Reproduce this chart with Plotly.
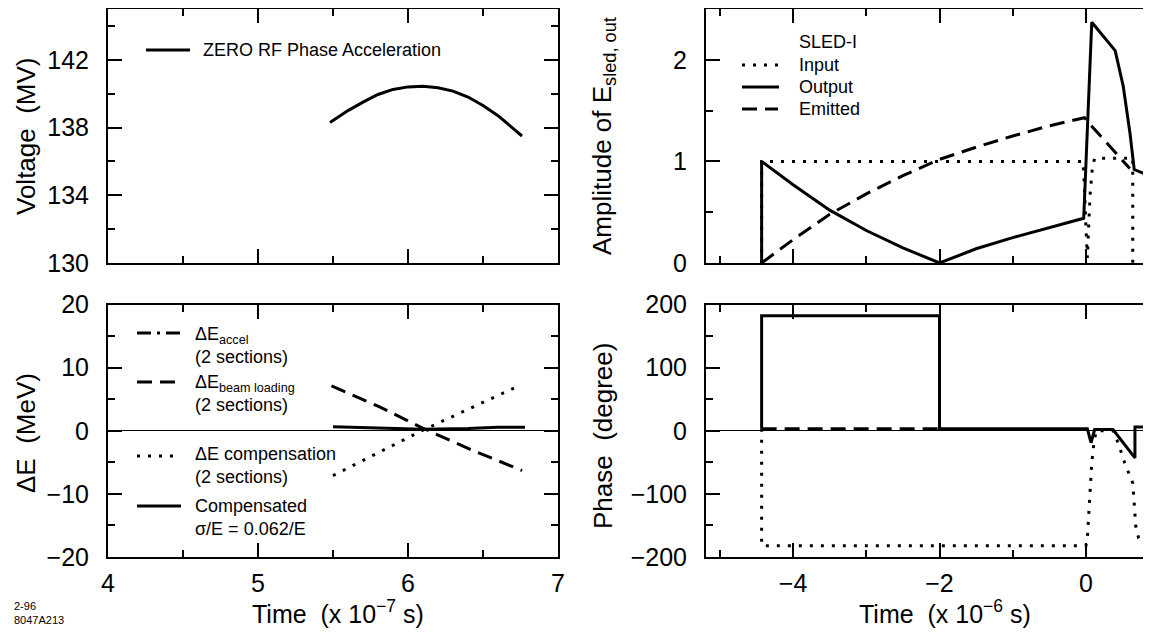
import plotly.graph_objects as go

# ---------------- data ----------------
# top-left: ZERO RF phase acceleration voltage (MV) vs time (x1e-7 s)
zero_rf_t = [5.48, 5.6, 5.7, 5.8, 5.9, 6.0, 6.1, 6.2, 6.3, 6.4, 6.5, 6.6, 6.7, 6.76]
zero_rf_v = [138.3, 139.0, 139.5, 139.95, 140.25, 140.4, 140.44, 140.35, 140.15, 139.8, 139.3, 138.7, 137.95, 137.5]

# bottom-left: energy deviations (MeV)
beam_t = [5.49, 5.8, 6.1, 6.4, 6.76]
beam_v = [7.1, 3.9, 0.4, -2.8, -6.3]
comp_t = [5.5, 5.8, 6.1, 6.4, 6.72]
comp_v = [-7.1, -3.5, 0.1, 3.4, 6.9]
compd_t = [5.5, 5.8, 6.1, 6.4, 6.6, 6.78]
compd_v = [0.65, 0.4, 0.25, 0.35, 0.55, 0.55]

# top-right: SLED-I amplitudes vs time (x1e-6 s)
in_amp_t = [-4.43, -4.43, -0.04, -0.02, 0.0, 0.01, 0.02, 0.04, 0.06, 0.09, 0.12, 0.64, 0.64]
in_amp_v = [0.0, 1.0, 1.0, 0.75, 0.35, 0.05, 0.05, 0.4, 0.7, 0.95, 1.03, 1.03, 0.0]
out_amp_t = [-4.43, -4.43, -4.0, -3.5, -3.0, -2.5, -2.0, -1.5, -1.0, -0.5, -0.03, 0.08, 0.4, 0.51, 0.6, 0.66, 0.93]
out_amp_v = [0.0, 1.0, 0.77, 0.52, 0.32, 0.15, 0.0, 0.14, 0.25, 0.35, 0.44, 2.37, 2.09, 1.74, 1.29, 0.92, 0.84]
em_amp_t = [-4.43, -4.0, -3.5, -3.0, -2.5, -2.0, -1.5, -1.0, -0.5, -0.02, 0.05, 0.6]
em_amp_v = [0.0, 0.23, 0.48, 0.68, 0.86, 1.02, 1.14, 1.25, 1.35, 1.43, 1.37, 0.93]

# bottom-right: SLED-I phases (degree)
in_ph_t = [-4.43, -4.43, 0.0, 0.02, 0.045, 0.08, 0.11, 0.14, 0.37, 0.44, 0.53, 0.59, 0.64, 0.66, 0.68, 0.72, 0.77]
in_ph_v = [3, -182, -182, -170, -120, -51, -19, 0, 0, -19, -51, -67, -83, -115, -150, -170, -178]
out_ph_t = [-4.43, -4.43, -2.0, -2.0, 0.02, 0.07, 0.12, 0.37, 0.67, 0.67, 0.93]
out_ph_v = [3, 182, 182, 3, 3, -19, 2, 2, -43, 6, 6]
em_ph_t = [-4.43, -2.0]
em_ph_v = [3, 3]

# ---------------- layout helpers ----------------
# the page body keeps its default 8 px margin, so the figure is 16 px smaller than the window
OFF = 8
W, H = 1151 - 2 * OFF, 637 - 2 * OFF
FONT = "Liberation Sans, Arial, Helvetica, sans-serif"


def px(x):  # x given in window pixels
    return (x - OFF) / W


def py(y):  # y given in window pixels
    return 1 - (y - OFF) / H


DOT = "3px,8px"
DASH = "15px,8px"
DASHDOT = "14px,6px,3px,6px"

fig = go.Figure()


def line(t, v, xa, ya, dash="solid", width=3):
    fig.add_trace(go.Scatter(x=t, y=v, xaxis=xa, yaxis=ya, mode="lines",
                             line=dict(color="black", width=width, dash=dash),
                             showlegend=False, hoverinfo="skip"))


line(zero_rf_t, zero_rf_v, "x", "y")
line(beam_t, beam_v, "x2", "y2", DASH)
line(comp_t, comp_v, "x2", "y2", DOT)
line(compd_t, compd_v, "x2", "y2")
line(in_amp_t, in_amp_v, "x3", "y3", DOT)
line(em_amp_t, em_amp_v, "x3", "y3", DASH)
line(out_amp_t, out_amp_v, "x3", "y3")
line(in_ph_t, in_ph_v, "x4", "y4", DOT)
line(em_ph_t, em_ph_v, "x4", "y4", DASH)
line(out_ph_t, out_ph_v, "x4", "y4")


def axis(domain, anchor, rng, major, labels, minor, zero=False, show=True, xaxis=True,
         mirror="allticks"):
    d = dict(domain=domain, anchor=anchor, range=rng, showline=True, linecolor="black",
             linewidth=2, mirror=mirror, ticks="inside", ticklen=14, tickwidth=1.5,
             tickcolor="black", showgrid=False, zeroline=zero, zerolinecolor="black",
             zerolinewidth=1, tickmode="array", tickvals=major, automargin=False,
             showticklabels=show,
             tickfont=dict(family=FONT, size=25, color="black"),
             ticklabelstandoff=3 if xaxis else 12,
             minor=dict(ticks="inside", ticklen=7, tickwidth=1.5, tickcolor="black",
                        tickvals=minor, showgrid=False),
             fixedrange=True)
    if show:
        d["ticktext"] = labels
    return d


def right_ticks(overlay, anchor, rng, major):
    # only the inner ends of the right-edge ticks are visible in the cropped original
    return dict(overlaying=overlay, anchor=anchor, side="right", range=rng, showline=False,
                ticks="inside", ticklen=3, tickwidth=1.5, tickcolor="black", showgrid=False,
                zeroline=False, tickmode="array", tickvals=major, showticklabels=False,
                automargin=False, fixedrange=True)


L = [px(108), px(558)]
R = [px(706), 1.0]
TOP = [py(263), py(9)]
BOT = [py(557), py(304.5)]
XR = [-5.19, 0.78]

fig.update_layout(
    width=W, height=H, margin=dict(l=0, r=0, t=0, b=0, autoexpand=False), autosize=False,
    paper_bgcolor="white", plot_bgcolor="white", showlegend=False,
    font=dict(family=FONT, color="black"),
    xaxis=axis(L, "y", [4, 7], [4, 5, 6, 7], None, [4.5, 5.5, 6.5], show=False),
    yaxis=axis(TOP, "x", [130, 145], [130, 134, 138, 142], ["130", "134", "138", "142"],
               [132, 136, 140, 144], xaxis=False),
    xaxis2=axis(L, "y2", [4, 7], [4, 5, 6, 7], ["4", "5", "6", "7"], [4.5, 5.5, 6.5]),
    yaxis2=axis(BOT, "x2", [-20, 20], [-20, -10, 0, 10, 20], ["−20", "−10", "0", "10", "20"],
                [-15, -5, 5, 15], zero=True, xaxis=False),
    xaxis3=axis(R, "y3", XR, [-4, -2, 0], None, [-5, -3, -1], show=False),
    yaxis3=axis(TOP, "x3", [0, 2.5], [0, 1, 2], ["0", "1", "2"], [0.5, 1.5], xaxis=False,
                mirror=False),
    xaxis4=axis(R, "y4", XR, [-4, -2, 0], ["−4", "−2", "0"], [-5, -3, -1]),
    yaxis4=axis(BOT, "x4", [-200, 200], [-200, -100, 0, 100, 200],
                ["−200", "−100", "0", "100", "200"], [-150, -50, 50, 150], zero=True,
                xaxis=False, mirror=False),
    yaxis5=right_ticks("y3", "x3", [0, 2.5], [1, 2]),
    yaxis6=right_ticks("y4", "x4", [-200, 200], [-100, 0, 100]),
)

annotations = []
shapes = []


def text(x, y, s, size=18, angle=0, xanchor="left", yanchor="middle"):
    annotations.append(dict(x=px(x), y=py(y), xref="paper", yref="paper", text=s,
                            showarrow=False, xanchor=xanchor, yanchor=yanchor, align=xanchor,
                            textangle=angle, font=dict(family=FONT, size=size, color="black")))


def sample(x0, x1, y, dash="solid"):
    shapes.append(dict(type="line", xref="paper", yref="paper", x0=px(x0), x1=px(x1),
                       y0=py(y), y1=py(y), line=dict(color="black", width=3, dash=dash)))


# axis titles and figure code
text(26, 136, "Voltage\u00a0 (MV)", 26, -90, "center")
text(26, 433, "ΔE\u00a0 (MeV)", 26, -90, "center")
text(603, 136, "Amplitude of E<sub>sled, out</sub>", 26, -90, "center")
text(603, 436, "Phase\u00a0 (degree)", 26, -90, "center")
text(338, 612, "Time\u00a0 (x 10<sup>−7</sup> s)", 25, 0, "center")
text(945, 612, "Time\u00a0 (x 10<sup>−6</sup> s)", 25, 0, "center")
text(12, 613, "2-96<br>8047A213", 11)

# top-left legend
sample(146, 190, 50)
text(201, 50, "ZERO RF Phase Acceleration", 18)

# top-right legend
text(797, 42, "SLED-I", 18)
sample(742, 778, 65, DOT)
text(797, 65, "Input", 18)
sample(742, 779, 87)
text(797, 87, "Output", 18)
sample(742, 778, 109, DASH)
text(797, 109, "Emitted", 18)

# bottom-left legend
sample(137, 181, 333, DASHDOT)
text(193, 345, "ΔE<sub>accel</sub><br>(2 sections)", 18)
sample(137, 181, 382, DASH)
text(193, 393, "ΔE<sub>beam loading</sub><br>(2 sections)", 18)
sample(137, 181, 456, DOT)
text(193, 466, "ΔE compensation<br>(2 sections)", 18)
sample(137, 181, 506)
text(193, 517, "Compensated<br>σ/E = 0.062/E", 18)

fig.update_layout(annotations=annotations, shapes=shapes)

fig.write_html("out.html", config={"displayModeBar": False, "responsive": False})
